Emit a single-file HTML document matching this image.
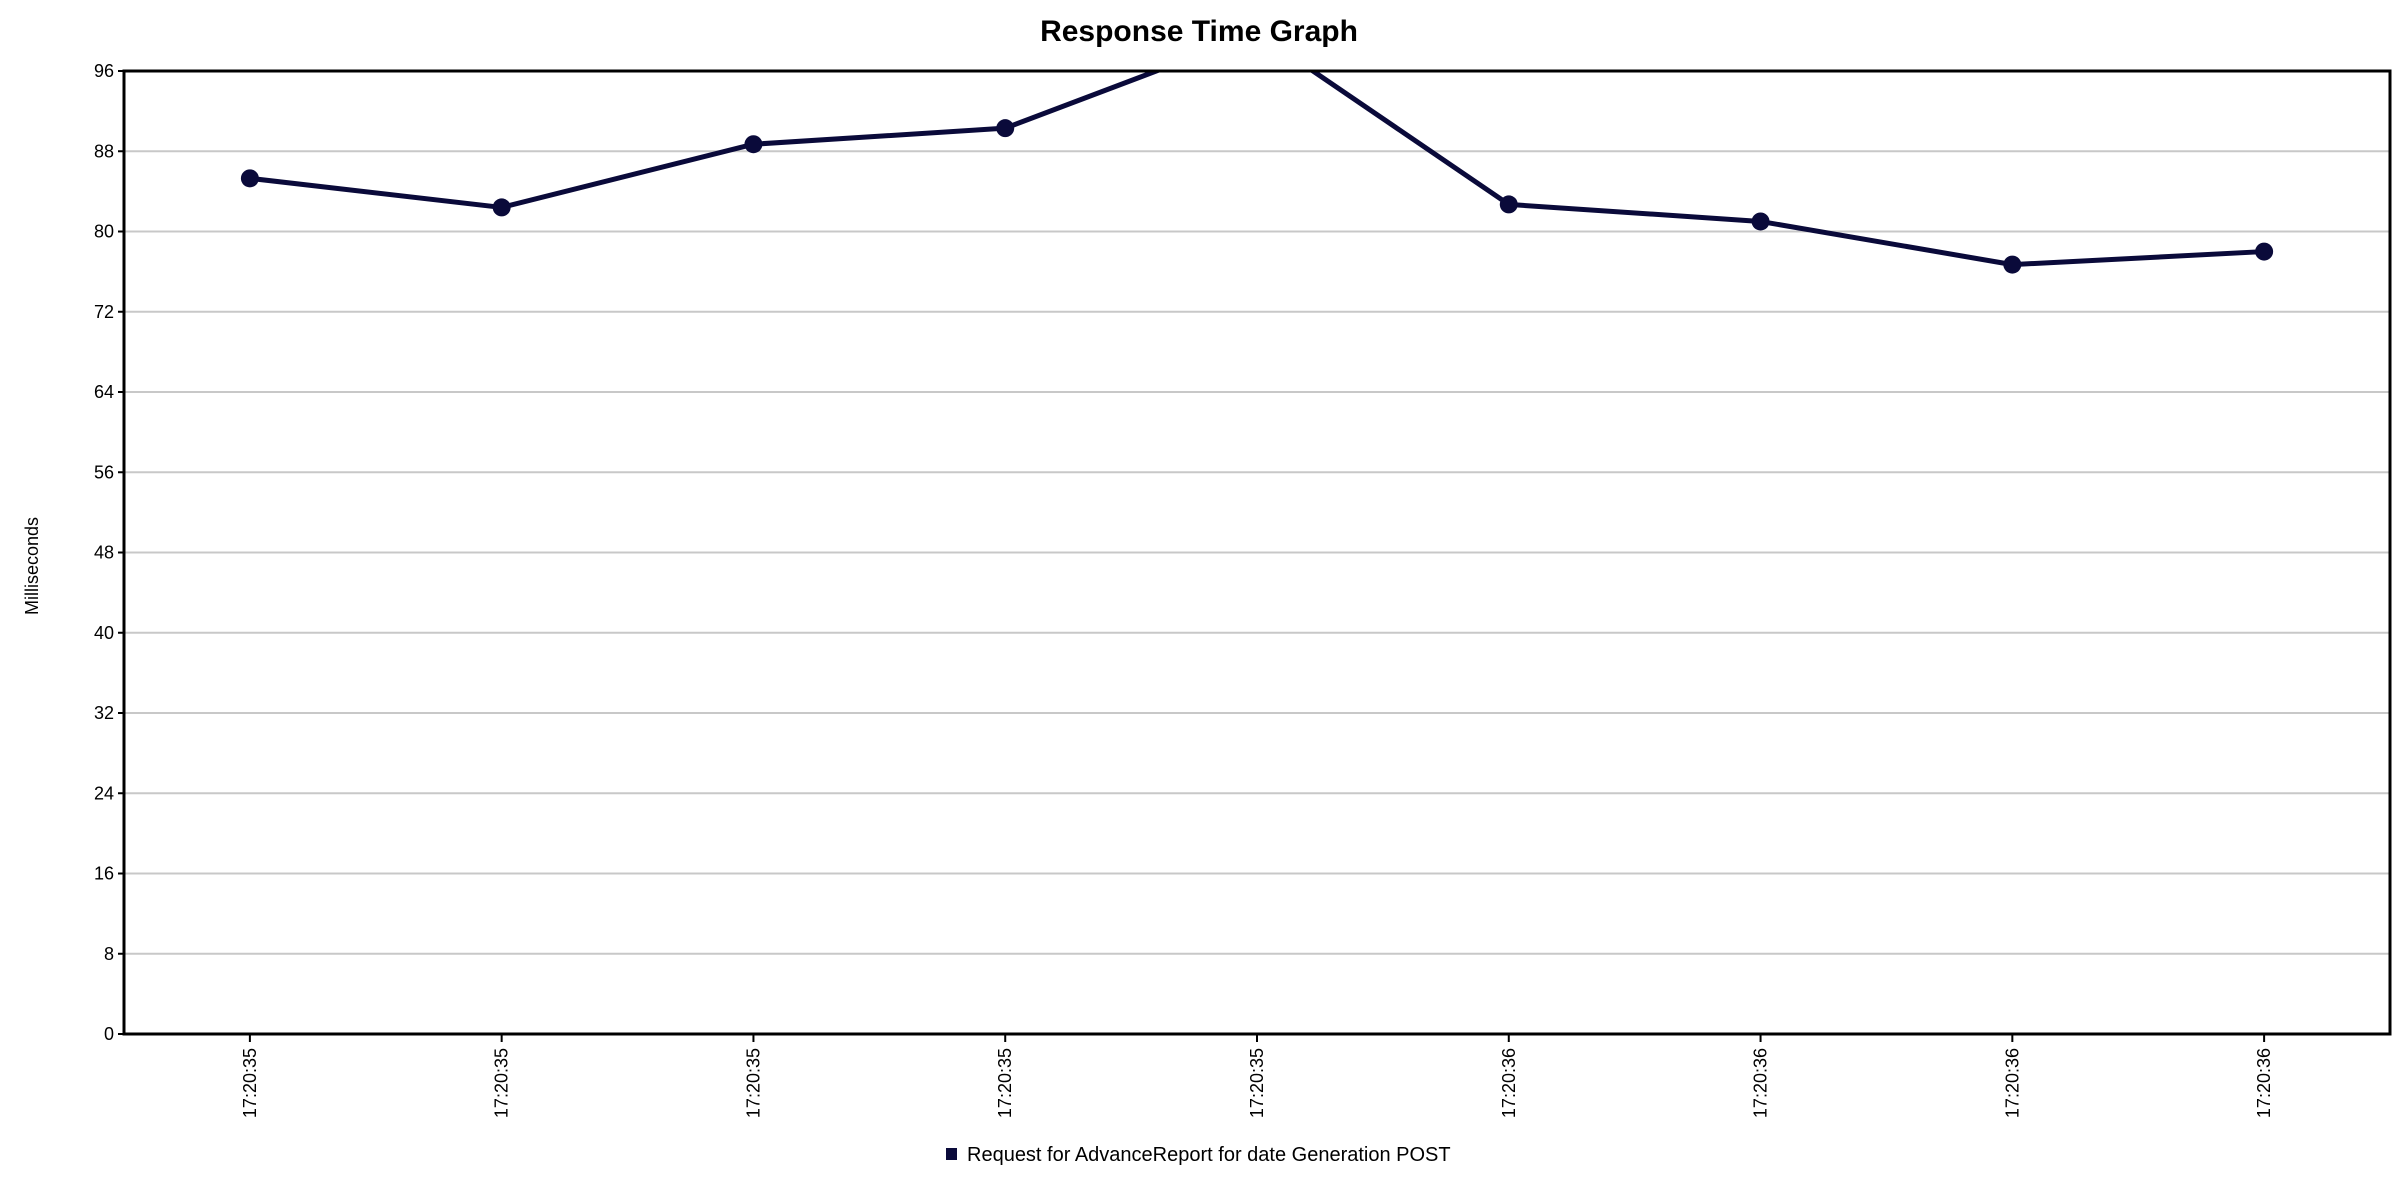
<!DOCTYPE html>
<html><head><meta charset="utf-8"><style>
html,body{margin:0;padding:0;background:#fff;}
svg{display:block;font-family:"Liberation Sans",sans-serif;}
</style></head><body>
<svg id="chart" width="2398" height="1190" viewBox="0 0 2398 1190" xmlns="http://www.w3.org/2000/svg">
<text x="1199" y="41" text-anchor="middle" font-size="30" font-weight="bold">Response Time Graph</text>
<text transform="translate(38,566) rotate(-90)" text-anchor="middle" font-size="18">Milliseconds</text>
<g id="grid"></g>
<g id="yticks"></g>
<g id="xticks"></g>
<g id="plot"></g>
<rect x="124" y="71" width="2266" height="963" fill="none" stroke="#000" stroke-width="3"/>
<rect x="946" y="1148" width="11" height="12" fill="#0a0a3a"/>
<text x="967" y="1161" font-size="20">Request for AdvanceReport for date Generation POST</text>
</svg>
<script>
const categories = ["17:20:35","17:20:35","17:20:35","17:20:35","17:20:35","17:20:36","17:20:36","17:20:36","17:20:36"];
const values = [85.3, 82.4, 88.7, 90.3, 99.8, 82.7, 81.0, 76.7, 78.0];
const yTicks = [0,8,16,24,32,40,48,56,64,72,80,88,96];
const NS="http://www.w3.org/2000/svg";
const L=124,R=2390,T=71,B=1034,YMAX=96;
const band=(R-L)/categories.length;
const x=i=>L+band*(i+0.5);
const y=v=>B-(v/YMAX)*(B-T);
function mk(tag,attrs,parent){const e=document.createElementNS(NS,tag);for(const k in attrs)e.setAttribute(k,attrs[k]);parent.appendChild(e);return e;}
const grid=document.getElementById('grid'),yt=document.getElementById('yticks'),xt=document.getElementById('xticks'),plot=document.getElementById('plot');
yTicks.forEach(v=>{
  if(v>0&&v<YMAX){const g=mk('line',{x1:L,x2:R,y1:y(v),y2:y(v),stroke:'#c8c8c8','stroke-width':2},grid);
  
  }
  const tk=mk('line',{x1:L-6,x2:L,y1:y(v),y2:y(v),stroke:'#000','stroke-width':2},yt);
  
  
  const t=mk('text',{x:L-10,y:y(v)+6,'text-anchor':'end','font-size':18},yt);
  
  
  t.textContent=v;
});
categories.forEach((c,i)=>{
  const tk=mk('line',{x1:x(i),x2:x(i),y1:B,y2:B+8,stroke:'#000','stroke-width':2},xt);
  
  
  const t=mk('text',{transform:`translate(${x(i)+6},${B+14}) rotate(-90)`,'text-anchor':'end','font-size':18},xt);
  
  
  t.textContent=c;
});
const clip=mk('clipPath',{id:'pc'},plot);
mk('rect',{x:L,y:T,width:R-L,height:B-T},clip);
const g=mk('g',{'clip-path':'url(#pc)'},plot);
const pl=mk('polyline',{points:values.map((v,i)=>x(i)+','+y(v)).join(' '),fill:'none',stroke:'#0a0a3a','stroke-width':5,'stroke-linejoin':'round'},g);


values.forEach((v,i)=>{
  const c=mk('circle',{cx:x(i),cy:y(v),r:9,fill:'#0a0a3a'},g);
  
  
});
</script>
</body></html>
